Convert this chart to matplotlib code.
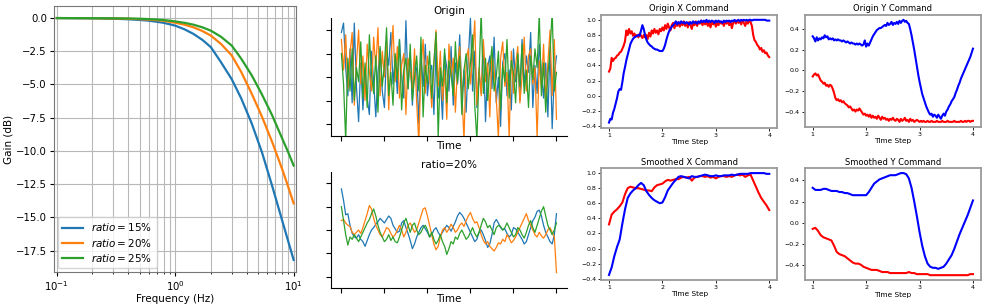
import numpy as np
import matplotlib
matplotlib.use('Agg')
import matplotlib.pyplot as plt

# bode plot of the smoothing filter
freq = [0.1, 0.2, 0.3, 0.4, 0.5, 0.6, 0.7, 0.8, 1.0, 1.2, 1.43, 1.7, 2.0,
        2.43, 3.0, 3.61, 4.42, 5.4, 6.57, 8.04, 9.0, 10.0]
gain_15 = [0.0, -0.02, -0.05, -0.09, -0.14, -0.2, -0.28, -0.36, -0.57, -0.85,
           -1.2, -1.65, -2.19, -3.31, -4.6, -6.05, -7.92, -10.1, -12.6,
           -15.3, -16.8, -18.2]
gain_20 = [0.0, -0.01, -0.03, -0.05, -0.08, -0.12, -0.16, -0.21, -0.35, -0.5,
           -0.7, -0.98, -1.32, -1.94, -2.81, -4.06, -5.68, -7.42, -9.3,
           -11.42, -12.7, -13.95]
gain_25 = [0.0, -0.01, -0.02, -0.03, -0.05, -0.08, -0.11, -0.15, -0.25, -0.36,
           -0.5, -0.7, -0.95, -1.4, -2.07, -3.06, -4.3, -5.75, -7.3, -9.1,
           -10.1, -11.1]
ratios = ['15', '20', '25']

# random signals, raw and smoothed with ratio=20%
origin_blue = [1.9, 2.3, 0.4, -0.8, 1.2, -1.1, 2.3, -0.4, -1.9, 0.6,
               -1.4, 0.3, -0.9, -1.6, 1.1, -0.2, -1.7, 0.2, 1.2, -0.6,
               -1.3, 1.1, 0.5, 1.9, -0.3, 0.8, -0.7, 1.6, 0.1, -0.9,
               2.4, -0.5, 1.0, -1.2, 0.7, 0.3, -2.0, 0.9, -0.4, 1.4,
               -0.8, 0.2, 0.5, -1.6, 1.2, -0.9, 0.0, -1.8, 1.0, 0.4,
               -0.6, 1.3, -1.2, 0.6, -0.3, 1.8, -0.9, 0.3, -1.5, 0.8,
               2.5, -0.6, 1.1, -1.3, 0.2, -0.7, 1.5, -1.9, 0.4, 0.9,
               -0.5, 1.7, -1.1, 0.0, -2.1, 0.6, 1.0, -0.8, 0.3, -1.4,
               1.2, -0.2, 0.7, -1.0, 1.6, -0.4, 0.9, 0.2, 1.9, -1.3,
               0.5, -0.7, 1.4, 0.2, -0.9, 0.6, -1.7, 1.3, -2.2, 0.1, 0.9]
origin_orange = [1.6, 0.3, 1.8, -0.5, 1.0, 1.9, -1.2, 0.6, 2.0, -0.3,
                 0.9, -1.0, 1.4, 0.2, -0.6, 1.7, 0.4, 2.1, -0.8, 1.1,
                 0.0, 1.5, -1.4, 0.7, 2.2, -0.2, 1.3, -0.9, 0.5, 1.0,
                 -1.6, 0.8, 0.2, -0.5, 1.2, -1.1, -2.8, 0.4, 1.6, -0.7,
                 0.9, 0.1, -1.3, 0.6, 2.0, -0.4, 1.1, -1.0, 0.3, -1.8,
                 1.4, 0.0, 0.8, -1.5, 0.5, 1.3, -0.6, -2.7, 0.7, 1.2,
                 -0.3, 0.9, 2.4, -1.2, 0.4, -0.8, 1.6, -0.2, 0.6, -1.7,
                 1.0, 0.3, -0.9, -2.6, 0.8, 1.5, -0.4, 0.2, -2.6, 1.1,
                 -0.7, 0.5, 1.3, -1.1, 0.0, 1.7, -0.6, 0.9, 1.2, -0.3,
                 0.4, -2.6, 0.7, -0.5, 1.4, -1.0, 0.6, 2.0, -0.8, 1.6, -1.8]
origin_green = [1.0, -0.3, -2.7, 0.8, -0.6, 1.2, -1.0, 0.4, -0.2, 1.5,
                -0.9, 0.6, -1.3, 1.8, 0.1, -0.7, 0.9, -1.5, 1.3, -0.4,
                0.5, 2.1, -0.8, 0.2, -1.2, 1.0, -0.1, 1.6, -1.4, 0.3,
                0.8, -0.5, 1.4, -1.0, 0.0, 0.9, -0.6, 1.7, -1.7, 0.5,
                -0.3, 1.1, -0.9, 0.6, 1.9, -2.6, 0.4, -0.4, 1.2, -1.1,
                0.7, 0.1, -0.8, 1.5, -0.2, 0.9, -1.6, 0.3, 1.0, -0.5,
                0.6, 1.8, -1.2, -2.7, 0.2, 2.8, -0.7, 0.8, -1.0, 0.4,
                1.3, -0.6, 0.0, 1.1, -1.4, 0.5, -0.2, 1.6, -0.9, 0.7,
                0.2, -1.1, 1.0, -0.4, 1.4, -0.7, 0.3, -1.3, 0.9, -0.1,
                1.2, 0.4, 2.7, -0.8, 0.6, -1.5, 0.1, 1.1, 2.8, -0.6, 0.2]

smooth_blue = [1.76, 1.27, 0.65, 0.7, 0.2, -0.14, -0.3, -0.35, -0.2, -0.4,
               -0.5, -0.7, -0.45, -0.2, 0.0, 0.1, 0.25, 0.35, 0.5, 0.4,
               0.3, 0.45, 0.6, 0.5, 0.2, 0.05, -0.1, -0.05, 0.3, 0.4,
               0.1, -0.15, -0.45, -0.8, -0.6, -0.3, -0.1, 0.1, 0.2, 0.05,
               -0.1, -0.3, -0.2, 0.0, 0.1, -0.1, -0.25, -0.1, 0.05, 0.2,
               0.1, -0.05, 0.15, 0.35, 0.6, 0.75, 0.65, 0.5, 0.3, 0.1,
               -0.1, -0.3, -0.5, -0.4, -0.1, 0.0, -0.2, -0.45, -0.75, -0.6,
               -0.2, 0.3, 0.45, 0.3, 0.1, 0.0, 0.05, -0.15, -0.3, -0.2,
               0.1, 0.05, -0.1, -0.25, -0.4, -0.6, -0.5, -0.2, 0.1, 0.4,
               0.55, 0.8, 0.85, 0.6, 0.2, -0.1, -0.3, -0.5, -0.6, -0.2, 0.7]
smooth_orange = [0.4, 0.45, 0.3, 0.2, 0.15, -0.1, -0.2, -0.1, 0.0, -0.15,
                 0.1, 0.4, 0.7, 1.05, 0.9, 0.5, 0.2, 0.0, -0.2, -0.3,
                 -0.1, 0.1, 0.05, -0.15, -0.3, -0.2, 0.0, 0.2, 0.0, -0.3,
                 -0.1, 0.2, 0.3, 0.1, -0.1, 0.0, 0.3, 0.6, 0.9, 0.95,
                 0.6, 0.2, -0.2, -0.6, -0.85, -0.7, -0.3, 0.0, 0.1, -0.1,
                 0.05, 0.25, 0.1, -0.1, 0.0, 0.2, 0.3, 0.15, 0.4, 0.6,
                 0.75, 0.5, 0.3, 0.35, 0.1, -0.2, -0.45, -0.6, -0.5, -0.7,
                 -0.8, -0.9, -0.75, -0.55, -0.6, -0.4, -0.5, -0.2, -0.35, -0.55,
                 -0.45, -0.3, -0.1, 0.1, 0.3, 0.5, 0.7, 0.4, 0.2, 0.0,
                 -0.2, -0.3, -0.1, -0.25, -0.35, -0.2, 0.0, 0.1, -0.1, -0.3, -1.83]
smooth_green = [1.0, 0.4, -0.2, -0.65, -0.3, -0.4, -0.2, -0.35, -0.5, -0.3,
                -0.1, 0.1, 0.3, 0.45, 0.7, 0.9, 0.6, 0.2, -0.1, -0.3,
                -0.5, -0.4, -0.2, -0.45, -0.3, -0.5, -0.55, -0.3, 0.0, 0.3,
                0.5, 0.2, -0.1, 0.2, 0.3, 0.0, -0.2, -0.1, 0.1, 0.2,
                0.0, -0.3, -0.1, -0.4, -0.6, -0.45, -0.2, -0.5, -0.7, -1.05,
                -0.8, -0.5, -0.6, -0.3, -0.4, -0.15, 0.0, -0.2, -0.4, -0.3,
                -0.1, 0.1, -0.15, -0.3, -0.1, 0.2, 0.5, 0.35, 0.1, 0.2,
                0.0, -0.2, 0.1, 0.2, 0.15, 0.0, 0.1, 0.3, 0.1, -0.1,
                -0.3, -0.2, 0.1, 0.0, -0.2, -0.35, -0.1, 0.2, 0.4, 0.1,
                -0.1, 0.2, 0.5, 0.8, 1.0, 0.6, 0.2, 0.0, -0.2, 0.0, 0.3]

# velocity commands over time steps 1..4 (origin sampled every 0.025, smoothed every 0.05)
origin_x_red = [0.32, 0.36, 0.50, 0.46, 0.49, 0.50, 0.53, 0.54, 0.57, 0.58,
                0.62, 0.66, 0.72, 0.86, 0.80, 0.88, 0.82, 0.85, 0.79, 0.82,
                0.78, 0.80, 0.77, 0.82, 0.79, 0.76, 0.80, 0.77, 0.80, 0.75,
                0.83, 0.78, 0.86, 0.82, 0.88, 0.83, 0.86, 0.81, 0.88, 0.85,
                0.90, 0.86, 0.93, 0.88, 0.95, 0.90, 0.86, 0.93, 0.96, 0.89,
                0.95, 0.92, 0.97, 0.91, 0.96, 0.93, 0.98, 0.92, 0.96, 0.90,
                0.97, 0.93, 0.88, 0.96, 0.93, 0.98, 0.92, 0.97, 0.95, 0.99,
                0.93, 0.97, 0.94, 0.98, 0.92, 0.96, 0.90, 0.97, 0.94, 0.98,
                0.91, 0.96, 0.93, 0.98, 0.95, 0.97, 0.92, 0.98, 0.95, 0.97,
                0.93, 0.98, 0.89, 0.96, 0.98, 0.95, 0.99, 0.96, 0.98, 0.94,
                0.99, 0.96, 0.92, 0.98, 0.95, 0.99, 0.97, 0.92, 0.80, 0.73,
                0.71, 0.67, 0.65, 0.61, 0.63, 0.58, 0.60, 0.56, 0.57, 0.53, 0.51]
origin_x_blue = [-0.35, -0.30, -0.31, -0.22, -0.17, -0.10, -0.03, 0.06, 0.09, 0.08,
                 0.18, 0.30, 0.38, 0.47, 0.54, 0.61, 0.68, 0.72, 0.75, 0.77,
                 0.78, 0.79, 0.80, 0.79, 0.86, 0.93, 0.88, 0.80, 0.74, 0.70,
                 0.68, 0.66, 0.65, 0.63, 0.62, 0.61, 0.61, 0.60, 0.59, 0.59,
                 0.59, 0.62, 0.67, 0.74, 0.80, 0.85, 0.88, 0.91, 0.93, 0.95,
                 0.98, 0.94, 0.97, 0.95, 0.98, 0.96, 0.97, 0.95, 0.97, 0.96,
                 0.94, 0.97, 0.95, 0.98, 0.96, 0.97, 0.95, 0.98, 0.96, 0.99,
                 0.97, 0.99, 0.97, 1.00, 0.97, 0.99, 0.97, 0.99, 0.98, 0.96,
                 0.99, 0.97, 0.99, 0.97, 0.98, 0.96, 0.99, 0.97, 0.99, 0.98,
                 0.99, 0.97, 0.99, 0.98, 1.00, 0.98, 0.99, 1.00, 0.98, 1.00,
                 0.99, 1.00, 0.99, 1.00, 0.99, 1.00, 1.00, 0.99, 1.00, 1.00,
                 1.00, 1.00, 1.00, 1.00, 1.00, 1.00, 1.00, 1.00, 0.99, 0.99, 0.99]
origin_y_red = [-0.06, -0.04, -0.03, -0.05, -0.04, -0.07, -0.10, -0.11, -0.13, -0.12,
                -0.15, -0.14, -0.16, -0.14, -0.15, -0.18, -0.22, -0.27, -0.29, -0.28,
                -0.30, -0.29, -0.31, -0.30, -0.32, -0.33, -0.34, -0.36, -0.35, -0.37,
                -0.39, -0.38, -0.40, -0.38, -0.39, -0.37, -0.39, -0.41, -0.43, -0.42,
                -0.44, -0.43, -0.45, -0.43, -0.46, -0.44, -0.46, -0.45, -0.47, -0.44,
                -0.46, -0.48, -0.45, -0.47, -0.46, -0.48, -0.47, -0.49, -0.47, -0.48,
                -0.46, -0.48, -0.49, -0.47, -0.48, -0.50, -0.47, -0.49, -0.48, -0.46,
                -0.49, -0.48, -0.50, -0.47, -0.49, -0.48, -0.50, -0.49, -0.48, -0.49,
                -0.50, -0.49, -0.50, -0.49, -0.50, -0.50, -0.49, -0.50, -0.50, -0.49,
                -0.50, -0.50, -0.50, -0.49, -0.50, -0.50, -0.50, -0.49, -0.50, -0.50,
                -0.50, -0.49, -0.50, -0.50, -0.50, -0.50, -0.49, -0.50, -0.50, -0.50,
                -0.50, -0.49, -0.50, -0.50, -0.49, -0.50, -0.49, -0.49, -0.50, -0.49, -0.49]
origin_y_blue = [0.33, 0.31, 0.28, 0.32, 0.29, 0.31, 0.30, 0.32, 0.31, 0.34,
                 0.32, 0.33, 0.30, 0.31, 0.30, 0.31, 0.29, 0.30, 0.29, 0.30,
                 0.29, 0.29, 0.28, 0.29, 0.28, 0.27, 0.28, 0.27, 0.26, 0.27,
                 0.26, 0.26, 0.25, 0.26, 0.25, 0.26, 0.25, 0.24, 0.25, 0.29,
                 0.23, 0.26, 0.24, 0.27, 0.30, 0.33, 0.35, 0.37, 0.39, 0.40,
                 0.41, 0.41, 0.42, 0.43, 0.44, 0.43, 0.46, 0.44, 0.45, 0.47,
                 0.44, 0.46, 0.45, 0.47, 0.45, 0.48, 0.46, 0.48, 0.49, 0.47,
                 0.48, 0.46, 0.45, 0.40, 0.34, 0.27, 0.20, 0.12, 0.04, -0.04,
                 -0.11, -0.17, -0.23, -0.27, -0.31, -0.35, -0.38, -0.41, -0.43, -0.42,
                 -0.45, -0.43, -0.44, -0.46, -0.43, -0.45, -0.47, -0.44, -0.42, -0.44,
                 -0.40, -0.38, -0.35, -0.33, -0.30, -0.28, -0.26, -0.22, -0.19, -0.15,
                 -0.12, -0.08, -0.05, -0.02, 0.01, 0.04, 0.07, 0.10, 0.13, 0.17, 0.21]

smooth_x_red = [0.32, 0.45, 0.49, 0.52, 0.56, 0.61, 0.72, 0.80, 0.82, 0.81,
                0.80, 0.80, 0.79, 0.78, 0.77, 0.77, 0.76, 0.81, 0.84, 0.85,
                0.86, 0.89, 0.91, 0.90, 0.91, 0.92, 0.92, 0.94, 0.95, 0.94,
                0.95, 0.90, 0.94, 0.95, 0.96, 0.96, 0.95, 0.96, 0.94, 0.95,
                0.93, 0.95, 0.96, 0.96, 0.95, 0.96, 0.95, 0.97, 0.98, 0.97,
                0.98, 0.95, 0.97, 0.98, 0.90, 0.82, 0.74, 0.67, 0.62, 0.57, 0.51]
smooth_x_blue = [-0.35, -0.25, -0.10, 0.02, 0.12, 0.33, 0.52, 0.67, 0.73, 0.77,
                 0.80, 0.84, 0.87, 0.84, 0.76, 0.71, 0.67, 0.64, 0.62, 0.60,
                 0.61, 0.68, 0.77, 0.82, 0.87, 0.91, 0.95, 0.96, 0.95, 0.94,
                 0.93, 0.96, 0.95, 0.95, 0.96, 0.97, 0.98, 0.97, 0.96, 0.96,
                 0.97, 0.96, 0.96, 0.97, 0.97, 0.97, 0.98, 0.97, 0.98, 0.99,
                 0.99, 0.99, 0.99, 1.00, 1.00, 1.00, 1.00, 1.00, 1.00, 0.99, 0.99]
smooth_y_red = [-0.06, -0.05, -0.08, -0.12, -0.14, -0.15, -0.16, -0.17, -0.22, -0.28,
                -0.30, -0.31, -0.32, -0.34, -0.36, -0.38, -0.39, -0.39, -0.40, -0.42,
                -0.43, -0.44, -0.45, -0.45, -0.45, -0.46, -0.47, -0.47, -0.47, -0.48,
                -0.48, -0.48, -0.48, -0.48, -0.48, -0.48, -0.47, -0.48, -0.48, -0.49,
                -0.49, -0.49, -0.49, -0.49, -0.50, -0.50, -0.50, -0.50, -0.50, -0.50,
                -0.50, -0.50, -0.50, -0.50, -0.50, -0.50, -0.50, -0.50, -0.50, -0.49, -0.49]
smooth_y_blue = [0.33, 0.31, 0.31, 0.31, 0.32, 0.32, 0.31, 0.30, 0.30, 0.30,
                 0.29, 0.29, 0.28, 0.28, 0.27, 0.26, 0.26, 0.26, 0.26, 0.26,
                 0.26, 0.29, 0.33, 0.37, 0.39, 0.41, 0.42, 0.43, 0.44, 0.45,
                 0.45, 0.45, 0.46, 0.47, 0.47, 0.46, 0.42, 0.33, 0.20, 0.06,
                 -0.09, -0.22, -0.32, -0.39, -0.42, -0.43, -0.43, -0.44, -0.43, -0.42,
                 -0.39, -0.35, -0.31, -0.25, -0.18, -0.11, -0.05, 0.01, 0.07, 0.14, 0.21]

fig = plt.figure(figsize=(9.87, 3.08), dpi=100)

# --- bode plot ---
ax = fig.add_axes([0.0547, 0.117, 0.2452, 0.8636])
for g, r in zip([gain_15, gain_20, gain_25], ratios):
    ax.plot(freq, g, lw=1.6, label=r'$ratio=%s\%%$' % r)
ax.set_xscale('log')
ax.set_xlim(10 ** -1.024, 10 ** 1.02)
ax.grid(True, which='both', axis='x', color='#b8b8b8', lw=0.8)
ax.grid(True, which='major', axis='y', color='#b8b8b8', lw=0.8)
ax.set_xlabel('Frequency (Hz)', fontsize=7.5, labelpad=1)
ax.set_ylabel('Gain (dB)', fontsize=7.5, labelpad=2)
ax.tick_params(labelsize=7.3, length=3, pad=2)
ax.tick_params(which='minor', length=1.5)
for s in ax.spines.values():
    s.set_color('#777777')
ax.legend(loc='lower left', fontsize=7.5, handlelength=2.0, borderaxespad=0.4,
          labelspacing=0.3)

# --- noise panels ---
noise_panels = [
    ([0.335, 0.5594, 0.2397, 0.381], 'Origin',
     [origin_blue, origin_orange, origin_green]),
    ([0.335, 0.064, 0.2397, 0.3786], 'ratio=20%',
     [smooth_blue, smooth_orange, smooth_green]),
]
for pos, title, series in noise_panels:
    ax = fig.add_axes(pos)
    for s, c in zip(series, ['tab:blue', 'tab:orange', 'tab:green']):
        ax.plot(np.arange(len(s)), s, color=c, lw=0.9)
    n = len(series[0])
    ax.set_xticks(np.linspace(0, n - 1, 6))
    ax.set_yticks([-2, -1, 0, 1, 2])
    ax.set_ylim(-2.5, 2.5)
    ax.set_xticklabels([])
    ax.set_yticklabels([])
    ax.spines['top'].set_visible(False)
    ax.spines['right'].set_visible(False)
    ax.tick_params(length=3.5, width=0.8)
    ax.set_title(title, fontsize=7.5, pad=3)
    ax.set_xlabel('Time', fontsize=7.5, labelpad=-3)

# --- command panels ---
cmd_panels = [
    ([0.6089, 0.5854, 0.1786, 0.3669], 'Origin X Command', origin_x_red, origin_x_blue),
    ([0.8153, 0.5877, 0.1786, 0.3646], 'Origin Y Command', origin_y_red, origin_y_blue),
    ([0.6089, 0.0909, 0.1786, 0.3636], 'Smoothed X Command', smooth_x_red, smooth_x_blue),
    ([0.8153, 0.0900, 0.1786, 0.3646], 'Smoothed Y Command', smooth_y_red, smooth_y_blue),
]
for pos, title, red, blue in cmd_panels:
    ax = fig.add_axes(pos)
    ax.plot(np.linspace(1, 4, len(red)), red, color='red', lw=1.5)
    ax.plot(np.linspace(1, 4, len(blue)), blue, color='blue', lw=1.5)
    ax.set_xticks([1, 2, 3, 4])
    ax.tick_params(labelsize=4.5, length=2, width=0.6, pad=1.5)
    for s in ax.spines.values():
        s.set_color('#9a9a9a')
        s.set_linewidth(1.3)
    ax.set_title(title, fontsize=6, pad=2.5)
    ax.set_xlabel('Time Step', fontsize=5.3, labelpad=1)

plt.savefig('out.png', dpi=100)
